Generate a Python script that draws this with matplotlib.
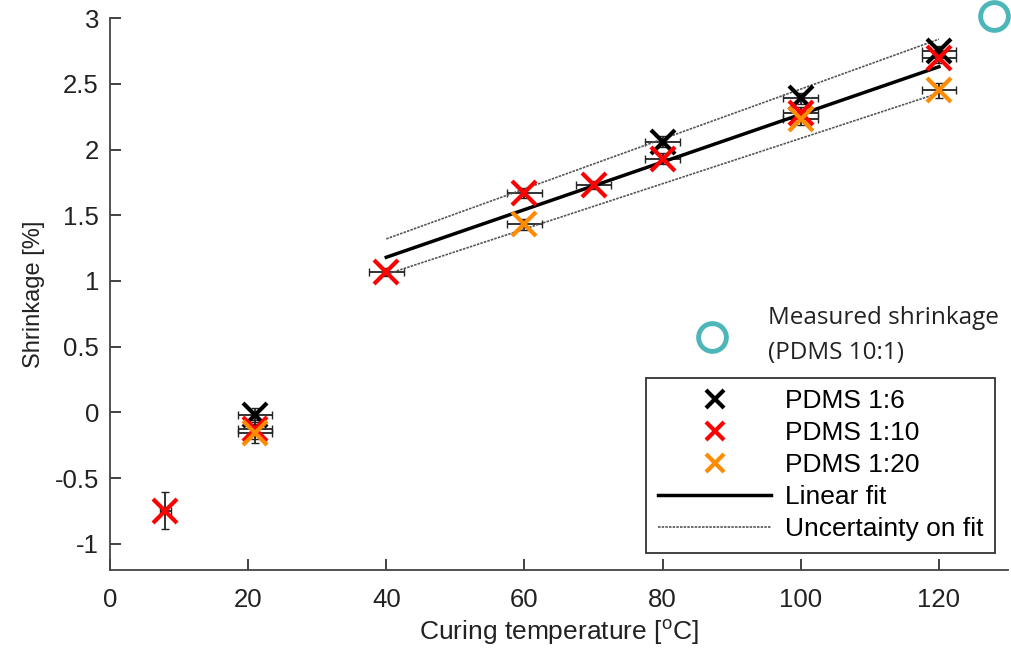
import matplotlib.pyplot as plt
import numpy as np

plt.rcParams['font.family'] = ['Liberation Sans', 'DejaVu Sans']

# PDMS 1:6
t_16 = [21, 80, 100, 120]
s_16 = [-0.02, 2.06, 2.39, 2.75]
e_16 = [0.05, 0.04, 0.04, 0.04]
# PDMS 1:10
t_110 = [8, 21, 40, 60, 70, 80, 100, 120]
s_110 = [-0.75, -0.13, 1.07, 1.67, 1.73, 1.93, 2.28, 2.70]
e_110 = [0.14, 0.07, 0.03, 0.04, 0.03, 0.04, 0.04, 0.04]
# PDMS 1:20
t_120 = [21, 60, 100, 120]
s_120 = [-0.16, 1.43, 2.23, 2.45]
e_120 = [0.07, 0.04, 0.04, 0.06]
t_err = 2.5
t_err_low = 0.8

# linear fit and its uncertainty band, end points
fit_t = [40, 120]
fit_s = [1.18, 2.63]
fit_hi = [1.32, 2.84]
fit_lo = [1.05, 2.43]

# measured shrinkage PDMS 10:1
meas_t = [128]
meas_s = [3.02]

fig = plt.figure(figsize=(10.11, 6.48), dpi=100)
ax = fig.add_axes([0.1088, 0.1204, 0.8882, 0.8516])

xe_110 = [t_err_low if t < 10 else t_err for t in t_110]
ax.errorbar(t_16, s_16, xerr=t_err, yerr=e_16, fmt='none', ecolor='#222222', elinewidth=1.3, capsize=3)
ax.errorbar(t_110, s_110, xerr=xe_110, yerr=e_110, fmt='none', ecolor='#222222', elinewidth=1.3, capsize=3)
ax.errorbar(t_120, s_120, xerr=t_err, yerr=e_120, fmt='none', ecolor='#222222', elinewidth=1.3, capsize=3)

ax.plot(fit_t, fit_s, color='black', lw=2.5, label='Linear fit', zorder=3)
ax.plot(fit_t, fit_hi, color='#555555', lw=1.2, ls=(0, (1.5, 0.7)), zorder=3)
ax.plot(fit_t, fit_lo, color='#555555', lw=1.2, ls=(0, (1.5, 0.7)), label='Uncertainty on fit', zorder=3)

ax.plot(t_16, s_16, 'x', color='black', ms=17, mew=3, label='PDMS 1:6', zorder=4)
ax.plot(t_110, s_110, 'x', color='red', ms=17, mew=3, label='PDMS 1:10', zorder=5)
ax.plot(t_120, s_120, 'x', color='#FF8C00', ms=17, mew=3, label='PDMS 1:20', zorder=6)

teal = '#4DB6B8'
ax.plot(meas_t, meas_s, 'o', mfc='none', mec=teal, ms=20, mew=3.5, clip_on=False, zorder=7)

ax.set_xlim(0, 130)
ax.set_ylim(-1.2, 3)
ax.set_xticks([0, 20, 40, 60, 80, 100, 120])
ax.set_yticks([-1, -0.5, 0, 0.5, 1, 1.5, 2, 2.5, 3])
ax.set_yticklabels(['-1', '-0.5', '0', '0.5', '1', '1.5', '2', '2.5', '3'])
ax.tick_params(direction='in', length=8, width=1.2, labelsize=18.5, colors='#222222')
ax.tick_params(axis='x', pad=13)
ax.tick_params(axis='y', pad=8)
ax.spines['top'].set_visible(False)
ax.spines['right'].set_visible(False)
for sp in ['left', 'bottom']:
    ax.spines[sp].set_color('#444444')
    ax.spines[sp].set_linewidth(1.3)
ax.set_xlabel('Curing temperature [$\\mathregular{^o}$C]', fontsize=19, color='#222222', labelpad=4)
ax.set_ylabel('Shrinkage [%]', fontsize=17, color='#222222', labelpad=7)

handles, labels = ax.get_legend_handles_labels()
order = [labels.index(l) for l in ['PDMS 1:6', 'PDMS 1:10', 'PDMS 1:20', 'Linear fit', 'Uncertainty on fit']]
leg = ax.legend([handles[i] for i in order], [labels[i] for i in order],
                loc='lower right', bbox_to_anchor=(0.9855, 0.0308), borderaxespad=0,
                fontsize=19, frameon=True, fancybox=False, edgecolor='#333333', framealpha=1,
                handlelength=4.3, labelspacing=0.3, borderpad=0.45, handletextpad=0.5,
                markerscale=0.75)
leg.get_frame().set_linewidth(1.3)

# separate marker label for the measured point
ax.plot([87.2], [0.57], 'o', mfc='none', mec=teal, ms=20, mew=3.5, zorder=7)
ax.text(95.3, 0.72, 'Measured shrinkage', fontsize=17.5, family=['Open Sans', 'DejaVu Sans'],
        va='center', ha='left', color='#222222')
ax.text(95.3, 0.45, '(PDMS 10:1)', fontsize=17.5, family=['Open Sans', 'DejaVu Sans'],
        va='center', ha='left', color='#222222')

fig.savefig('out.png', dpi=100)
